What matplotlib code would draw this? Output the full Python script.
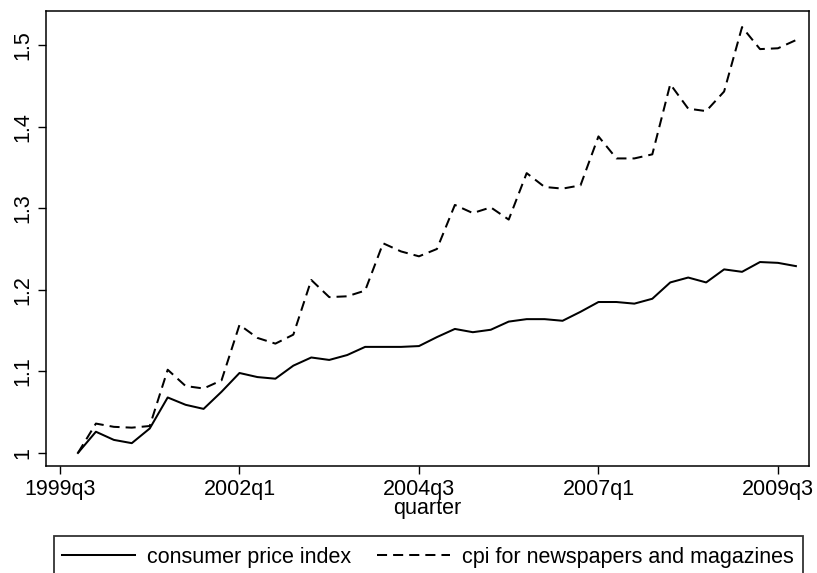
import matplotlib
matplotlib.use("Agg")
import matplotlib.pyplot as plt
from matplotlib.lines import Line2D
from matplotlib.patches import Rectangle

plt.rcParams['font.family'] = ['Liberation Sans', 'DejaVu Sans']

quarters = [f"{y}q{q}" for y in range(1999, 2010) for q in range(1, 5)]
quarters = quarters[quarters.index("1999q4"):quarters.index("2009q4") + 1]

cpi = [1.000, 1.026, 1.016, 1.012, 1.030, 1.068, 1.059, 1.054, 1.075, 1.098,
       1.093, 1.091, 1.107, 1.117, 1.114, 1.120, 1.130, 1.130, 1.130, 1.131,
       1.142, 1.152, 1.148, 1.151, 1.161, 1.164, 1.164, 1.162, 1.173, 1.185,
       1.185, 1.183, 1.189, 1.209, 1.215, 1.209, 1.225, 1.222, 1.234, 1.233,
       1.229]
cpi_news = [1.000, 1.036, 1.032, 1.031, 1.033, 1.102, 1.082, 1.079, 1.089, 1.157,
            1.141, 1.134, 1.145, 1.212, 1.191, 1.192, 1.199, 1.257, 1.247, 1.241,
            1.250, 1.304, 1.294, 1.301, 1.286, 1.343, 1.326, 1.324, 1.328, 1.388,
            1.361, 1.361, 1.366, 1.452, 1.422, 1.419, 1.443, 1.522, 1.495, 1.496,
            1.506]
xtick_labels = ["1999q3", "2002q1", "2004q3", "2007q1", "2009q3"]
yticks = [1, 1.1, 1.2, 1.3, 1.4, 1.5]
ytick_labels = ["1", "1.1", "1.2", "1.3", "1.4", "1.5"]
series_labels = ["consumer price index", "cpi for newspapers and magazines"]


def qidx(s):
    y, q = s.split("q")
    return int(y) * 4 + int(q) - 1 - (1999 * 4 + 2)


x = [qidx(s) for s in quarters]
xt = [qidx(s) for s in xtick_labels]

W, H = 817, 573
FS = 15.5
fig = plt.figure(figsize=(W / 100, H / 100), dpi=100)
ax = fig.add_axes([46 / W, 1 - 466 / H, (809 - 46) / W, (466 - 11) / H])

lw = 1.45
dash = (5.0, 3.0)
ax.plot(x, cpi, color='black', lw=lw)
ax.plot(x, cpi_news, color='black', lw=lw, dashes=dash)

ax.set_xlim(-0.78, 41.73)
ax.set_ylim(0.984, 1.5417)
ax.set_xticks(xt)
ax.set_xticklabels(xtick_labels, fontsize=FS)
ax.set_yticks(yticks)
ax.set_yticklabels(ytick_labels, fontsize=FS, rotation=90, va='center')
ax.tick_params(direction='out', length=6, width=1, color='black', pad=3)
for sp in ax.spines.values():
    sp.set_linewidth(1.1)
ax.set_xlabel("quarter", fontsize=FS, labelpad=-1)

# Legend box (extends beyond the bottom edge as in the reference)
fig.patches.append(Rectangle((54 / W, -0.05), (803 - 54) / W, (1 - 536 / H) + 0.05,
                             transform=fig.transFigure, fill=False,
                             edgecolor='#333333', lw=1.3))
handles = [Line2D([], [], color='black', lw=lw),
           Line2D([], [], color='black', lw=lw, dashes=dash)]
leg = fig.legend(handles, series_labels, loc='center', ncol=2,
                 bbox_to_anchor=(428 / W, 1 - 557 / H), frameon=False,
                 fontsize=FS, handlelength=3.4, handletextpad=0.55,
                 columnspacing=1.2, borderaxespad=0)

fig.savefig("out.png", dpi=100)
